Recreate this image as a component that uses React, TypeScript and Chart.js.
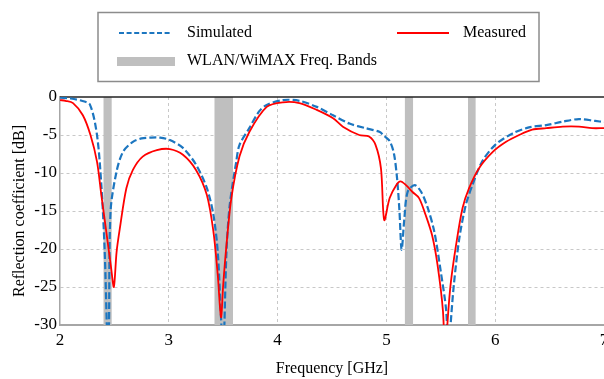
import React, { useEffect, useRef } from 'react';
import { Chart, registerables } from 'chart.js';

Chart.register(...registerables);

const seriesNames = ['Simulated', 'Measured'];
const bandName = 'WLAN/WiMAX Freq. Bands';

const simFreq = [2.0, 2.1, 2.2, 2.275, 2.34, 2.38, 2.41, 2.43, 2.44, 2.45, 2.465, 2.52, 2.58, 2.67, 2.75, 2.83, 2.92, 3.01, 3.13, 3.25, 3.35, 3.41, 3.45, 3.48, 3.5, 3.53, 3.56, 3.62, 3.65, 3.74, 3.83, 3.9, 4.05, 4.2, 4.36, 4.51, 4.66, 4.81, 4.94, 4.97, 5.03, 5.07, 5.1, 5.12, 5.14, 5.165, 5.195, 5.26, 5.32, 5.38, 5.44, 5.5, 5.55, 5.57, 5.59, 5.62, 5.67, 5.73, 5.79, 5.88, 6.0, 6.16, 6.31, 6.47, 6.62, 6.77, 6.92, 7.0];
const simDb = [-0.1, -0.2, -0.5, -1.0, -5.0, -11.6, -20, -30, -36, -30, -15, -9.8, -7.2, -5.9, -5.45, -5.35, -5.35, -5.66, -6.7, -8.9, -12, -15.5, -20.4, -29, -34, -20.4, -14.2, -8.5, -6.3, -4.1, -1.9, -1.05, -0.4, -0.5, -1.3, -2.4, -3.5, -4.1, -4.6, -5.0, -5.8, -7.5, -11, -15, -20.1, -16, -12.5, -11.6, -12.5, -14.6, -17.7, -23, -28.2, -35, -30, -24.7, -18.6, -14.2, -11.6, -8.5, -6.3, -4.8, -4.0, -3.7, -3.25, -2.9, -3.15, -3.3];

const measFreq = [2.0, 2.05, 2.12, 2.21, 2.28, 2.34, 2.38, 2.43, 2.47, 2.495, 2.52, 2.55, 2.61, 2.67, 2.76, 2.89, 3.01, 3.13, 3.25, 3.35, 3.41, 3.45, 3.48, 3.5, 3.53, 3.575, 3.65, 3.74, 3.9, 4.05, 4.2, 4.36, 4.51, 4.6, 4.75, 4.84, 4.9, 4.95, 4.98, 5.03, 5.09, 5.13, 5.18, 5.24, 5.3, 5.36, 5.42, 5.47, 5.52, 5.54, 5.56, 5.59, 5.64, 5.7, 5.76, 5.85, 5.98, 6.1, 6.22, 6.34, 6.47, 6.62, 6.77, 6.89, 7.0];
const measDb = [-0.4, -0.5, -0.8, -2.4, -5.0, -8.5, -12.9, -18.2, -22.5, -25, -20.4, -17.3, -12, -9.6, -7.85, -7.0, -6.85, -7.6, -9.6, -12.9, -17.7, -23.4, -29, -24.7, -19.5, -13.3, -7.8, -4.6, -1.3, -0.7, -0.8, -1.7, -2.8, -3.9, -5.0, -5.2, -6.3, -9.4, -16.2, -13.3, -11.6, -11.1, -11.6, -12.5, -13.3, -15.5, -18.2, -22.1, -28.2, -35, -30, -24.7, -19.5, -14.6, -12, -9.4, -7.2, -5.9, -5.0, -4.3, -4.1, -3.9, -3.9, -4.1, -4.1];

const bandStart = [2.4, 3.42, 5.17, 5.75];
const bandEnd = [2.475, 3.59, 5.245, 5.82];

const xMin = 2;
const xMax = 7;
const yMin = -30;
const yMax = 0;

const FONT = '"Liberation Serif", "Times New Roman", serif';
const BLUE = '#1c76c0';
const RED = '#ff0000';
const GRAY = '#bfbfbf';

const bandsPlugin = {
  id: 'bands',
  beforeDatasetsDraw(chart: any) {
    const { ctx, chartArea, scales } = chart;
    const x = scales.x;
    ctx.save();
    ctx.fillStyle = GRAY;
    for (let i = 0; i < bandStart.length; i++) {
      const a = x.getPixelForValue(bandStart[i]);
      const b = x.getPixelForValue(bandEnd[i]);
      ctx.fillRect(a, chartArea.top, b - a, chartArea.bottom - chartArea.top);
    }
    ctx.strokeStyle = '#222';
    ctx.lineWidth = 1.5;
    ctx.beginPath();
    ctx.moveTo(chartArea.left, chartArea.top);
    ctx.lineTo(chartArea.right, chartArea.top);
    ctx.stroke();
    ctx.restore();
  },
};

const legendPlugin = {
  id: 'customLegend',
  afterDraw(chart: any) {
    const { ctx } = chart;
    ctx.save();
    ctx.strokeStyle = '#8c8c8c';
    ctx.lineWidth = 1.5;
    ctx.strokeRect(98, 12.5, 441, 69);
    ctx.strokeStyle = BLUE;
    ctx.lineWidth = 2;
    ctx.setLineDash([5, 2.6]);
    ctx.beginPath();
    ctx.moveTo(119, 33);
    ctx.lineTo(172, 33);
    ctx.stroke();
    ctx.setLineDash([]);
    ctx.strokeStyle = RED;
    ctx.beginPath();
    ctx.moveTo(397, 33);
    ctx.lineTo(449, 33);
    ctx.stroke();
    ctx.fillStyle = GRAY;
    ctx.fillRect(117, 57, 58, 9);
    ctx.fillStyle = '#000';
    ctx.font = '16px ' + FONT;
    ctx.textBaseline = 'middle';
    ctx.textAlign = 'left';
    ctx.fillText(seriesNames[0], 187, 33);
    ctx.fillText(seriesNames[1], 463, 33);
    ctx.fillText(bandName, 187, 61);
    ctx.restore();
  },
};

export default function App() {
  const ref = useRef<HTMLCanvasElement | null>(null);
  useEffect(() => {
    if (!ref.current) return;
    const chart = new Chart(ref.current, {
      type: 'line',
      data: {
        datasets: [
          {
            label: seriesNames[1],
            data: measFreq.map((f, i) => ({ x: f, y: measDb[i] })),
            borderColor: RED,
            borderWidth: 1.8,
            pointRadius: 0,
            tension: 0.3,
            fill: false,
          },
          {
            label: seriesNames[0],
            data: simFreq.map((f, i) => ({ x: f, y: simDb[i] })),
            borderColor: BLUE,
            borderWidth: 2.2,
            borderDash: [7, 3],
            pointRadius: 0,
            tension: 0.3,
            fill: false,
          },
        ],
      },
      options: {
        responsive: false,
        animation: false,
        layout: { padding: { top: 97, left: 0, right: 0, bottom: 0 } },
        plugins: { legend: { display: false }, tooltip: { enabled: false } },
        scales: {
          x: {
            type: 'linear',
            min: xMin,
            max: xMax,
            ticks: { stepSize: 1, color: '#000', font: { family: FONT, size: 17 }, padding: 5, maxRotation: 0 },
            grid: {
              color: (c: any) => (c.tick && (c.tick.value === xMin || c.tick.value === xMax) ? 'rgba(0,0,0,0)' : '#c8c8c8'),
              lineWidth: 1,
              drawTicks: false,
            },
            border: { display: true, color: '#a6a6a6', width: 2, dash: [3, 3] },
            title: { display: true, text: 'Frequency [GHz]', color: '#000', font: { family: FONT, size: 16 }, padding: { top: 0, bottom: 1 } },
            afterFit: (s: any) => { s.paddingLeft = 0; s.paddingRight = 0; s.height = 54; },
          },
          y: {
            type: 'linear',
            min: yMin,
            max: yMax,
            ticks: { stepSize: 5, color: '#000', font: { family: FONT, size: 17 }, padding: 3 },
            grid: {
              color: (c: any) => (c.tick && (c.tick.value === yMin || c.tick.value === yMax) ? 'rgba(0,0,0,0)' : '#c8c8c8'),
              lineWidth: 1,
              drawTicks: false,
            },
            border: { display: true, color: '#a6a6a6', width: 1.5, dash: [3, 3] },
            title: { display: true, text: 'Reflection coefficient [dB]', color: '#000', font: { family: FONT, size: 16 }, padding: { top: 10, bottom: 0 } },
            afterFit: (s: any) => { s.width = 60; s.paddingTop = 0; s.paddingBottom = 0; },
          },
        },
      } as any,
      plugins: [bandsPlugin, legendPlugin],
    });
    return () => chart.destroy();
  }, []);
  return (
    <div style={{ position: 'fixed', left: 0, top: 0, width: 604, height: 379, overflow: 'hidden', background: '#fff' }}>
      <canvas ref={ref} width={604} height={379} style={{ display: 'block' }} />
    </div>
  );
}
